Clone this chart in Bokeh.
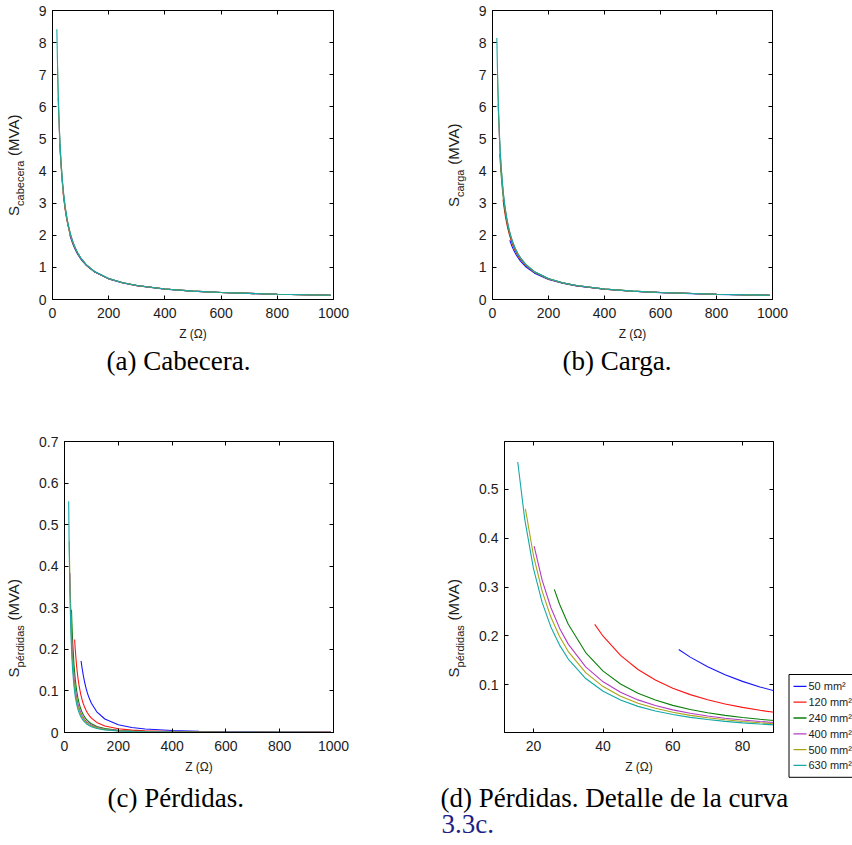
import math
from bokeh.plotting import figure
from bokeh.models import Range1d, LinearAxis, FixedTicker
from bokeh.layouts import column, row
from bokeh.embed import file_html
from bokeh.resources import INLINE
from bokeh.core.properties import value

# ---------------- data ----------------
SECTIONS = ["50 mm²", "120 mm²", "240 mm²", "400 mm²", "500 mm²", "630 mm²"]
COLORS = ["#1414ff", "#ff1414", "#0a800a", "#b43cc4", "#aaa414", "#14a8a8"]

Z_50 = [61.7, 65, 70, 75, 80, 85, 90, 100, 120, 150, 200, 250, 300, 400, 500, 600, 800, 990]
Z_120 = [37.6, 40, 45, 50, 55, 60, 65, 70, 75, 80, 85, 90, 100, 120, 150, 200, 250, 300, 400, 500, 600, 800, 990]
Z_240 = [26, 27.5, 30, 35, 40, 45, 50, 55, 60, 65, 70, 75, 80, 85, 90, 100, 120, 150, 200, 250, 300, 400, 500, 600, 800, 990]
Z_400 = [20.2, 22.5, 25, 27.5, 30, 35, 40, 45, 50, 55, 60, 65, 70, 75, 80, 85, 90, 100, 120, 150, 200, 250, 300, 400, 500, 600, 800, 990]
Z_500 = [17.7, 20, 22.5, 25, 27.5, 30, 35, 40, 45, 50, 55, 60, 65, 70, 75, 80, 85, 90, 100, 120, 150, 200, 250, 300, 400, 500, 600, 800, 990]
Z_630 = [15.5, 17.5, 20, 22.5, 25, 27.5, 30, 35, 40, 45, 50, 55, 60, 65, 70, 75, 80, 85, 90, 100, 120, 150, 200, 250, 300, 400, 500, 600, 800, 990]

# S cabecera (MVA)
CAB_50 = [2.017, 1.919, 1.788, 1.673, 1.572, 1.483, 1.403, 1.267, 1.061, 0.853, 0.643, 0.516, 0.431, 0.324, 0.259, 0.216, 0.162, 0.131]
CAB_120 = [3.338, 3.145, 2.806, 2.534, 2.310, 2.122, 1.962, 1.825, 1.706, 1.601, 1.509, 1.426, 1.286, 1.074, 0.861, 0.648, 0.519, 0.433, 0.325, 0.260, 0.217, 0.163, 0.132]
CAB_240 = [4.833, 4.579, 4.210, 3.625, 3.183, 2.837, 2.559, 2.330, 2.139, 1.977, 1.838, 1.717, 1.611, 1.517, 1.434, 1.292, 1.079, 0.864, 0.649, 0.520, 0.434, 0.325, 0.261, 0.217, 0.163, 0.132]
CAB_400 = [6.274, 5.649, 5.098, 4.644, 4.265, 3.666, 3.214, 2.862, 2.579, 2.347, 2.153, 1.989, 1.848, 1.726, 1.619, 1.524, 1.440, 1.297, 1.081, 0.866, 0.650, 0.520, 0.434, 0.326, 0.261, 0.217, 0.163, 0.132]
CAB_500 = [7.250, 6.429, 5.724, 5.158, 4.694, 4.307, 3.697, 3.238, 2.881, 2.594, 2.360, 2.164, 1.998, 1.856, 1.733, 1.625, 1.530, 1.445, 1.301, 1.084, 0.868, 0.651, 0.521, 0.435, 0.326, 0.261, 0.217, 0.163, 0.132]
CAB_630 = [8.419, 7.457, 6.525, 5.800, 5.220, 4.745, 4.350, 3.729, 3.263, 2.900, 2.610, 2.373, 2.175, 2.008, 1.864, 1.740, 1.631, 1.535, 1.450, 1.305, 1.088, 0.870, 0.653, 0.522, 0.435, 0.326, 0.261, 0.218, 0.163, 0.132]

# S carga (MVA)
CAR_50 = [1.845, 1.763, 1.651, 1.553, 1.465, 1.388, 1.317, 1.197, 1.011, 0.821, 0.624, 0.504, 0.422, 0.319, 0.256, 0.214, 0.161, 0.131]
CAR_120 = [3.115, 2.946, 2.646, 2.403, 2.201, 2.029, 1.882, 1.756, 1.646, 1.548, 1.462, 1.383, 1.251, 1.050, 0.845, 0.639, 0.513, 0.429, 0.323, 0.259, 0.216, 0.162, 0.131]
CAR_240 = [4.538, 4.314, 3.986, 3.459, 3.055, 2.736, 2.477, 2.262, 2.081, 1.928, 1.796, 1.680, 1.578, 1.488, 1.408, 1.271, 1.064, 0.855, 0.644, 0.517, 0.431, 0.324, 0.260, 0.217, 0.163, 0.132]
CAR_400 = [6.082, 5.492, 4.969, 4.536, 4.174, 3.598, 3.161, 2.820, 2.545, 2.318, 2.129, 1.968, 1.830, 1.710, 1.605, 1.512, 1.429, 1.288, 1.075, 0.862, 0.648, 0.519, 0.433, 0.325, 0.260, 0.217, 0.163, 0.132]
CAR_500 = [7.020, 6.247, 5.578, 5.039, 4.595, 4.223, 3.635, 3.190, 2.843, 2.563, 2.334, 2.142, 1.979, 1.840, 1.719, 1.613, 1.519, 1.435, 1.293, 1.079, 0.864, 0.649, 0.520, 0.434, 0.326, 0.261, 0.217, 0.163, 0.132]
CAR_630 = [8.141, 7.237, 6.356, 5.666, 5.111, 4.655, 4.274, 3.673, 3.220, 2.866, 2.582, 2.350, 2.156, 1.992, 1.850, 1.728, 1.620, 1.525, 1.441, 1.298, 1.083, 0.867, 0.651, 0.521, 0.434, 0.326, 0.261, 0.217, 0.163, 0.132]

# S pérdidas (MVA)
PER_50 = [0.172, 0.1564, 0.1366, 0.1203, 0.1067, 0.0953, 0.0857, 0.0703, 0.0498, 0.0325, 0.0187, 0.0121, 0.0085, 0.0048, 0.0031, 0.0022, 0.0012, 0.0008]
PER_120 = [0.2235, 0.1992, 0.1599, 0.1311, 0.1095, 0.0928, 0.0796, 0.0691, 0.0605, 0.0534, 0.0475, 0.0426, 0.0347, 0.0243, 0.0157, 0.0089, 0.0058, 0.0040, 0.0023, 0.0015, 0.0010, 0.0006, 0.0004]
PER_240 = [0.295, 0.2647, 0.2237, 0.1657, 0.1277, 0.1014, 0.0825, 0.0684, 0.0576, 0.0492, 0.0425, 0.0371, 0.0327, 0.0290, 0.0259, 0.0210, 0.0146, 0.0094, 0.0053, 0.0034, 0.0024, 0.0013, 0.0009, 0.0006, 0.0003, 0.0002]
PER_400 = [0.3835, 0.3140, 0.2580, 0.2157, 0.1830, 0.1365, 0.1058, 0.0843, 0.0688, 0.0572, 0.0483, 0.0413, 0.0358, 0.0313, 0.0276, 0.0245, 0.0219, 0.0178, 0.0124, 0.0080, 0.0045, 0.0029, 0.0020, 0.0011, 0.0007, 0.0005, 0.0003, 0.0002]
PER_500 = [0.46, 0.3650, 0.2917, 0.2384, 0.1985, 0.1678, 0.1245, 0.0960, 0.0763, 0.0621, 0.0515, 0.0434, 0.0371, 0.0321, 0.0280, 0.0246, 0.0219, 0.0195, 0.0159, 0.0111, 0.0071, 0.0040, 0.0026, 0.0018, 0.0010, 0.0007, 0.0005, 0.0003, 0.0002]
PER_630 = [0.556, 0.4391, 0.3382, 0.2685, 0.2183, 0.1810, 0.1525, 0.1125, 0.0864, 0.0684, 0.0555, 0.0460, 0.0387, 0.0330, 0.0285, 0.0248, 0.0218, 0.0194, 0.0173, 0.0140, 0.0097, 0.0062, 0.0035, 0.0023, 0.0016, 0.0009, 0.0006, 0.0004, 0.0002, 0.0001]

Z_ALL = [Z_50, Z_120, Z_240, Z_400, Z_500, Z_630]
CAB_ALL = [CAB_50, CAB_120, CAB_240, CAB_400, CAB_500, CAB_630]
CAR_ALL = [CAR_50, CAR_120, CAR_240, CAR_400, CAR_500, CAR_630]
PER_ALL = [PER_50, PER_120, PER_240, PER_400, PER_500, PER_630]

# tick values / labels
X_TICKS_FULL = [0, 200, 400, 600, 800, 1000]
X_LABELS_FULL = ["0", "200", "400", "600", "800", "1000"]
Y_TICKS_S = [0, 1, 2, 3, 4, 5, 6, 7, 8, 9]
Y_LABELS_S = ["0", "1", "2", "3", "4", "5", "6", "7", "8", "9"]
Y_TICKS_P = [0, 0.1, 0.2, 0.3, 0.4, 0.5, 0.6, 0.7]
Y_LABELS_P = ["0", "0.1", "0.2", "0.3", "0.4", "0.5", "0.6", "0.7"]
X_TICKS_D = [20, 40, 60, 80]
X_LABELS_D = ["20", "40", "60", "80"]
Y_TICKS_D = [0.1, 0.2, 0.3, 0.4, 0.5]
Y_LABELS_D = ["0.1", "0.2", "0.3", "0.4", "0.5"]

CAPTIONS_TOP = ["(a) Cabecera.", "(b) Carga."]
CAPTIONS_BOTTOM = ["(c) Pérdidas.", "(d) Pérdidas. Detalle de la curva", "3.3c."]

# ---------------- styling helpers ----------------
SANS = "Liberation Sans"
SERIF = "Liberation Serif"
TXT = "#1c1c1c"

# Arial / Liberation Sans advance widths (em) for label layout
AW = {"S": 0.667, "c": 0.5, "a": 0.556, "b": 0.556, "e": 0.556, "r": 0.333, "g": 0.556,
      "p": 0.556, "é": 0.556, "d": 0.556, "i": 0.222, "s": 0.5, " ": 0.278,
      "(": 0.333, ")": 0.333, "M": 0.833, "V": 0.667, "A": 0.667}


def tw(s, size):
    return sum(AW.get(ch, 0.556) for ch in s) * size


def style_axis(ax, ticks, labels, show, standoff):
    ax.ticker = FixedTicker(ticks=ticks)
    ax.major_label_overrides = {t: l for t, l in zip(ticks, labels)}
    ax.major_tick_in = 4
    ax.major_tick_out = 0
    ax.minor_tick_line_color = None
    ax.major_tick_line_color = "black"
    ax.axis_line_color = "black"
    ax.major_label_text_font = SANS
    ax.major_label_text_color = TXT
    if show:
        ax.major_label_text_font_size = "14px"
        ax.major_label_standoff = standoff
    else:
        ax.major_label_text_font_size = "0px"
        ax.major_label_standoff = 0


def make_panel(width, height, bl, br, bt, bb, xr, yr, xt, xl, yt, yl):
    p = figure(width=width, height=height, x_range=Range1d(*xr), y_range=Range1d(*yr),
               output_backend="svg", toolbar_location=None,
               min_border_left=bl, min_border_right=br, min_border_top=bt, min_border_bottom=bb)
    p.xgrid.visible = False
    p.ygrid.visible = False
    p.outline_line_color = "black"
    p.outline_line_width = 1
    p.background_fill_color = "white"
    p.border_fill_color = "white"
    style_axis(p.xaxis[0], xt, xl, True, 8)
    style_axis(p.yaxis[0], yt, yl, True, 6)
    p.xaxis[0].axis_label = "Z (Ω)"
    p.xaxis[0].axis_label_text_font = SANS
    p.xaxis[0].axis_label_text_font_size = "12px"
    p.xaxis[0].axis_label_text_font_style = "normal"
    p.xaxis[0].axis_label_text_color = TXT
    p.xaxis[0].axis_label_standoff = 6
    top = LinearAxis()
    style_axis(top, xt, [""] * len(xt), False, 0)
    p.add_layout(top, "above")
    right = LinearAxis()
    style_axis(right, yt, [""] * len(yt), False, 0)
    p.add_layout(right, "right")
    return p


def strip(width, height):
    s = figure(frame_width=width, frame_height=height,
               x_range=Range1d(0, width), y_range=Range1d(0, height),
               output_backend="svg", toolbar_location=None, x_axis_type=None, y_axis_type=None,
               min_border=0, title=None)
    s.min_border_left = s.min_border_right = s.min_border_top = s.min_border_bottom = 0
    s.xgrid.visible = False
    s.ygrid.visible = False
    s.outline_line_color = None
    s.border_fill_color = "white"
    s.background_fill_color = "white"
    return s


def ylabel_strip(height, sub, frame_center, center_x):
    s = strip(30, height)
    main, small = 15, 11
    w_s, w_sub, w_sp, w_u = tw("S", main), tw(sub, small), tw(" ", main), tw("(MVA)", main)
    total = w_s + w_sub + w_sp + w_u
    y0 = frame_center - total / 2
    xs = center_x + 0.358 * main + 4 - 0.30 * small   # middle of the subscript
    for txt, yy, xx, sz in [("S", y0 + w_s / 2, center_x, main),
                            (sub, y0 + w_s + w_sub / 2, xs, small),
                            ("(MVA)", y0 + w_s + w_sub + w_sp + w_u / 2, center_x, main)]:
        s.text(x=[xx], y=[yy], text=[txt], angle=math.pi / 2, text_font=value(SANS),
               text_font_size=value(f"{sz}px"), text_color=TXT, text_align="center",
               text_baseline="middle")
    return s


def caption_strip(height, items):
    s = strip(852, height)
    for txt, x, y, col in items:
        s.text(x=[x], y=[y], text=[txt], text_font=value(SERIF), text_font_size=value("27px"),
               text_color=col, text_align="left", text_baseline="middle")
    return s


def legend_strip(width, height, top, row_h, pad):
    """Key for panel (d): boxed rows with a line sample in each series colour."""
    s = strip(width, height)
    n = len(SECTIONS)
    bottom = top - 2 * pad - n * row_h
    s.quad(left=[8.5], right=[width + 10], top=[top], bottom=[bottom],
           fill_color="white", line_color="black", line_width=1)
    ys = [top - pad - row_h * (i + 0.5) for i in range(n)]
    s.segment(x0=[13] * n, x1=[26] * n, y0=ys, y1=ys, line_color=COLORS, line_width=1.3)
    s.text(x=[28] * n, y=ys, text=SECTIONS, text_font=value(SANS), text_font_size=value("11px"),
           text_color=TXT, text_align="left", text_baseline="middle")
    return s


def draw(p, series):
    return [p.line(z, s, line_color=c, line_width=1.1) for z, s, c in zip(Z_ALL, series, COLORS)]


# ---------------- row 1 ----------------
H1 = 344
pa = make_panel(410, H1, 22, 107, 10, 45, (0, 1000), (0, 9),
                X_TICKS_FULL, X_LABELS_FULL, Y_TICKS_S, Y_LABELS_S)
draw(pa, CAB_ALL)
pb = make_panel(382, H1, 22, 80, 10, 45, (0, 1000), (0, 9),
                X_TICKS_FULL, X_LABELS_FULL, Y_TICKS_S, Y_LABELS_S)
draw(pb, CAR_ALL)
ya = ylabel_strip(H1, "cabecera", 45 + 144.5, 13)
yb = ylabel_strip(H1, "carga", 45 + 144.5, 13)
cap1 = caption_strip(56, [(CAPTIONS_TOP[0], 106, 40, "black"), (CAPTIONS_TOP[1], 562, 40, "black")])

# ---------------- row 2 ----------------
H2 = 380
pc = make_panel(410, H2, 34, 107, 41, 48, (0, 1000), (0, 0.7),
                X_TICKS_FULL, X_LABELS_FULL, Y_TICKS_P, Y_LABELS_P)
draw(pc, PER_ALL)
pd_ = make_panel(310, H2, 34, 7, 41, 48, (11.7, 88.9), (0.002, 0.598),
                 X_TICKS_D, X_LABELS_D, Y_TICKS_D, Y_LABELS_D)
draw(pd_, PER_ALL)
yc = ylabel_strip(H2, "pérdidas", 48 + 145.5, 13)
yd = ylabel_strip(H2, "pérdidas", 48 + 145.5, 13)
lg = legend_strip(72, H2, 147, 15.8, 4)

cap2 = caption_strip(65, [(CAPTIONS_BOTTOM[0], 107, 48, "black"),
                          (CAPTIONS_BOTTOM[1], 440, 48, "black"),
                          (CAPTIONS_BOTTOM[2], 441, 22, "#1e1e86")])

layout = column(row(ya, pa, yb, pb), cap1, row(yc, pc, yd, pd_, lg), cap2)
open("out.html", "w").write(file_html(layout, INLINE))
